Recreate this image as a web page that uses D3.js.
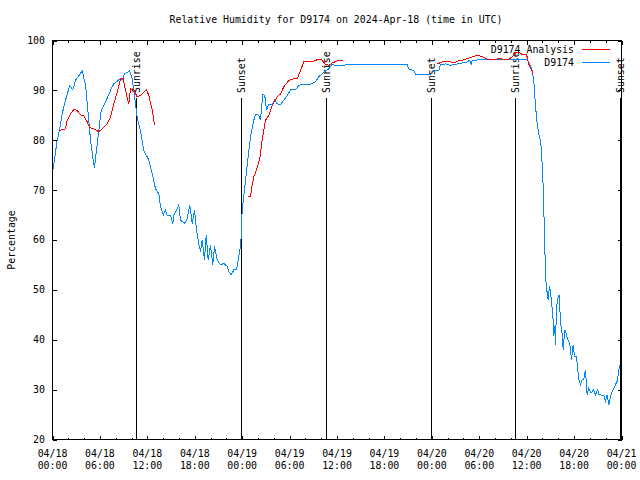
<!DOCTYPE html>
<html><head><meta charset="utf-8">
<script src="https://cdn.jsdelivr.net/npm/d3@7"></script>
<style>
html,body{margin:0;padding:0;background:#fff;}
text{font-family:"DejaVu Sans Mono","Liberation Mono",monospace;font-size:9.9px;fill:#000;}
</style></head>
<body><svg id="c" width="640" height="480"></svg>
<script>
// hours since 2024-04-18 00:00 UTC
const obsHours = [0.09,0.59,0.89,1.23,1.64,2.19,2.57,2.91,3.76,4.18,4.52,4.81,5.15,5.31,5.66,6.16,6.71,7.43,7.76,8.39,8.86,9.11,9.78,10.08,10.29,10.50,10.72,11.13,11.55,12.19,12.62,13.03,13.45,13.67,14.01,14.30,14.51,14.93,15.22,15.35,15.78,15.98,16.20,16.70,17.04,17.37,17.68,17.97,18.22,18.51,18.73,18.94,19.23,19.45,19.70,19.99,20.28,20.50,20.84,21.26,21.68,22.11,22.31,22.61,22.94,23.28,23.57,23.79,23.88,24.00,24.29,24.64,25.05,25.47,25.69,26.10,26.32,26.61,26.86,27.08,27.37,27.80,28.09,28.43,28.85,29.27,29.70,30.12,30.75,31.17,31.60,32.65,33.28,33.70,34.13,34.54,34.96,35.39,35.81,36.44,37.07,44.88,45.08,45.72,45.93,47.83,48.34,48.88,49.10,49.73,50.36,51.21,51.84,52.47,52.80,52.98,53.11,53.74,60.07,60.48,60.70,60.90,61.12,61.33,61.54,61.75,61.88,61.96,62.09,62.17,62.30,62.42,62.60,62.72,62.89,63.01,63.14,63.31,63.43,63.56,63.65,63.77,63.94,64.12,64.19,64.32,64.50,64.62,64.82,65.00,65.20,65.42,65.54,65.67,65.88,66.05,66.30,66.47,66.59,66.81,67.02,67.22,67.44,67.65,67.86,68.16,68.42,68.71,69.00,69.12,69.76,69.97,70.19,70.39,70.61,70.83,71.03,71.24,71.45,71.58,71.71,71.79];
const obsValues = [74.3,80,82,85.3,88,91,90.1,92,93.9,91,85.3,80,76,74.4,79.3,86,87.7,90.3,91.3,92.1,92.1,93.3,93.9,92.3,90,87.4,84.5,82,78,76,73.3,70.3,69.3,66.7,65,66,65,65,63.3,65,66.3,67,64,63.3,64.3,67,63.3,66,62,59.3,57.7,60,56,61,56,59,55,58.7,56,55,55.3,54.7,53.7,53,54,54,56.7,58.7,60.7,66,70,75,80.7,84,85.2,85,84,89.2,89,86,87.2,87.2,88.1,87.3,87.2,88,89,90.1,90.1,91,91.2,91.2,91.7,92.8,93.3,93.9,94.3,95.2,95,95,95.1,95.2,94.3,94,93.2,93.2,93.9,94,95.2,95.3,95,95.3,95.5,95.7,96.1,95.1,96,96.1,96.1,95,94,92,86.8,83.3,81.3,79.7,78,75,70.7,66.3,58,52,49.3,48,50.7,49.7,47.7,45,40.7,42.7,39,46.3,48.3,49,46.3,43,41,38,42,41.3,40,39.3,38.3,36,39,36.7,36.7,34,32,31,32,32,34,29,30.3,29.3,30,29,30,29,28.8,27.7,29,27,28.7,29.7,30.3,31,31.7,33,34.3,35];
// analysis series; null marks a gap
const anaHours = [0.80,1.27,1.64,1.86,2.28,2.70,3.13,3.54,3.96,4.39,4.72,5.23,5.86,6.29,6.92,7.34,7.76,8.26,8.60,8.95,9.24,9.65,9.87,10.29,10.72,11.13,11.89,12.19,12.62,12.91,18.0,
  24.71,25.05,25.27,25.47,25.81,26.23,26.53,26.95,27.37,27.80,28.43,28.85,29.27,29.90,30.53,30.96,31.38,31.80,32.86,33.28,33.70,34.04,34.54,35.09,35.39,36.02,36.78,42.0,
  48.68,49.31,49.94,50.78,51.41,52.04,53.11,53.74,54.37,55.00,55.64,56.27,56.90,57.53,58.17,58.59,59.13,59.43,59.98,60.27,60.61,60.82];
const anaValues = [82,82.1,82.3,84,85.3,86.2,86,85.1,84.9,83.7,82.5,82.3,81.7,82.3,83.3,84.7,87.3,90,92.3,92.3,90,87.3,90.3,90.1,88.7,89,90.1,89,86,83,null,
  68.8,68.8,71,72.7,74,76.3,80,84,85,87,88.7,89.3,90.7,92,92.3,92.3,94,95.7,95.7,96,96.3,96.2,95.2,95,95.5,95.9,96,null,
  95.3,95.7,95.9,95.5,96,96.1,96.7,97,96.8,96.3,96.1,96.3,96.3,96.1,96.7,97.5,97.5,97.2,97.2,95.3,94.1,93.3];
const sunHours = [10.55,23.83,34.57,47.9,58.52,71.8];
const sunLabels = ["Sunrise","Sunset","Sunrise","Sunset","Sunrise","Sunset"];
const yTicks = [20,30,40,50,60,70,80,90,100];
const seriesNames = ["D9174 Analysis","D9174"];
const seriesColors = ["#ff0000","#0088ff"];
const titleText = "Relative Humidity for D9174 on 2024-Apr-18 (time in UTC)";
const yLabel = "Percentage";

const t0 = Date.UTC(2024,3,18);
const toDate = h => new Date(t0 + h*3600000);
const svg = d3.select("#c");
const L=52.5,R=621.5,T=40.5,B=439.5;
const x = d3.scaleUtc().domain([new Date(t0), toDate(72)]).range([L,R]);
const y = d3.scaleLinear().domain([20,100]).range([B,T]);

// axes (ticks inward, mirrored)
function axis(gen, tr){ const g=svg.append("g").attr("transform",tr).call(gen); g.selectAll(".domain").remove(); g.selectAll("text").remove(); g.selectAll("line").attr("stroke","#000").attr("shape-rendering","crispEdges"); }
axis(d3.axisBottom(x).ticks(d3.utcHour.every(2)).tickSize(-2).tickFormat(""), `translate(0,${B})`);
axis(d3.axisTop(x).ticks(d3.utcHour.every(2)).tickSize(-2).tickFormat(""), `translate(0,${T})`);
axis(d3.axisBottom(x).ticks(d3.utcHour.every(6)).tickSize(-4).tickFormat(""), `translate(0,${B})`);
axis(d3.axisTop(x).ticks(d3.utcHour.every(6)).tickSize(-4).tickFormat(""), `translate(0,${T})`);
axis(d3.axisLeft(y).tickValues(yTicks).tickSize(-4).tickFormat(""), `translate(${L},0)`);
axis(d3.axisRight(y).tickValues(yTicks).tickSize(-4).tickFormat(""), `translate(${R},0)`);

// tick labels
yTicks.forEach(v=>svg.append("text").attr("x",45).attr("y",y(v)).attr("dy","0.35em").attr("text-anchor","end").text(v));
const fmtD=d3.utcFormat("%m/%d"), fmtT=d3.utcFormat("%H:%M");
x.ticks(d3.utcHour.every(6)).forEach(d=>{
  const tx=svg.append("text").attr("x",x(d)).attr("text-anchor","middle");
  tx.append("tspan").attr("x",x(d)).attr("y",456.5).text(fmtD(d));
  tx.append("tspan").attr("x",x(d)).attr("y",468.5).text(fmtT(d));
});

// frame
svg.append("rect").attr("x",L).attr("y",T).attr("width",R-L).attr("height",B-T).attr("fill","none").attr("stroke","#000").attr("shape-rendering","crispEdges");

// sun lines
sunHours.forEach((h,i)=>{
  const sx=Math.round(x(toDate(h)))+0.5;
  svg.append("line").attr("x1",sx).attr("x2",sx).attr("y1",98).attr("y2",B).attr("stroke","#000").attr("shape-rendering","crispEdges");
  svg.append("text").attr("transform",`translate(${sx+0.5},93) rotate(-90)`).attr("dy","0.35em").text(sunLabels[i]);
});

// series
const obs = obsHours.map((h,i)=>({d:toDate(h),v:obsValues[i]}));
const ana = anaHours.map((h,i)=>({d:toDate(h),v:anaValues[i]}));
const line = d3.line().defined(p=>p.v!=null).x(p=>x(p.d)).y(p=>y(p.v));
svg.append("path").datum(obs).attr("d",line).attr("fill","none").attr("stroke",seriesColors[1]).attr("stroke-width",1).attr("shape-rendering","crispEdges");
svg.append("path").datum(ana).attr("d",line).attr("fill","none").attr("stroke",seriesColors[0]).attr("stroke-width",1).attr("shape-rendering","crispEdges");

// legend
seriesNames.forEach((n,i)=>{
  const ly=49.5+i*13;
  svg.append("text").attr("x",574).attr("y",ly).attr("dy","0.35em").attr("text-anchor","end").text(n);
  svg.append("line").attr("x1",582).attr("x2",610).attr("y1",ly).attr("y2",ly).attr("stroke",seriesColors[i]).attr("shape-rendering","crispEdges");
});

// title & y label
svg.append("text").attr("x",336).attr("y",23).attr("text-anchor","middle").text(titleText);
svg.append("text").attr("transform","translate(12,240) rotate(-90)").attr("text-anchor","middle").attr("dy","0.35em").text(yLabel);
</script></body></html>
